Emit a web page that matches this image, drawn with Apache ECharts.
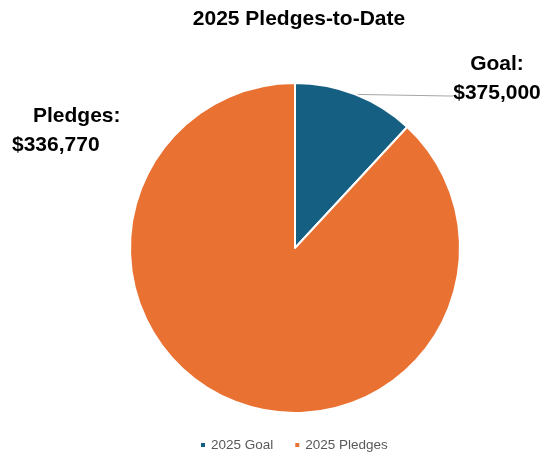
<!DOCTYPE html>
<html>
<head>
<meta charset="utf-8">
<script src="https://cdn.jsdelivr.net/npm/echarts@6/dist/echarts.min.js"></script>
<style>
html,body{margin:0;padding:0;background:#fff;}
#chart{width:545px;height:453px;}
</style>
</head>
<body>
<div id="chart"></div>
<script>
const titleText = '2025 Pledges-to-Date';
const categories = ['2025 Goal', '2025 Pledges'];
const values = [45500, 336770];
const labelTitles = ['Goal:', 'Pledges:'];
const labelAmounts = ['$375,000', '$336,770'];
const colors = ['#156082', '#E97132'];

const chart = echarts.init(document.getElementById('chart'));
const FONT = '"Liberation Sans", Arial, sans-serif';

const data = categories.map((c, i) => ({
  name: c,
  value: values[i],
  itemStyle: { color: colors[i] },
  labelLine: { show: i === 0 },
  label: i === 0 ? {} : { rich: { a: { padding: [0, 0, 0, 21] } } }
}));

chart.setOption({
  animation: false,
  title: {
    text: titleText,
    left: 294,
    textAlign: 'center',
    top: 4,
    textStyle: { fontFamily: FONT, fontSize: 21, fontWeight: 'bold', color: '#000' }
  },
  legend: {
    data: categories,
    left: 194,
    top: 433,
    icon: 'rect',
    itemWidth: 6,
    itemHeight: 6,
    itemGap: 20,
    textStyle: { fontFamily: FONT, fontSize: 13.5, color: '#595959' }
  },
  series: [{
    type: 'pie',
    center: [295, 248],
    radius: 165,
    startAngle: 90,
    clockwise: true,
    data: data,
    itemStyle: { borderColor: '#fff', borderWidth: 2 },
    label: {
      show: true,
      position: 'outside',
      formatter: function (p) {
        let s = '{a|' + labelTitles[p.dataIndex] + '}\n{b|' + labelAmounts[p.dataIndex] + '}';
        if (p.dataIndex === 0) s += '\n{c| }';
        return s;
      },
      rich: {
        a: { fontFamily: FONT, fontSize: 21, fontWeight: 'bold', color: '#000', lineHeight: 29 },
        b: { fontFamily: FONT, fontSize: 21, fontWeight: 'bold', color: '#000', lineHeight: 29 },
        c: { fontSize: 10, lineHeight: 50 }
      }
    },
    labelLine: {
      show: true,
      length: 10,
      length2: 4,
      lineStyle: { color: '#a6a6a6', width: 1 }
    },
    labelLayout: function (params) {
      if (params.dataIndex === 0) {
        return { x: 497, y: 50, align: 'center', verticalAlign: 'top' };
      }
      return { x: 12, y: 131, align: 'left', verticalAlign: 'middle' };
    }
  }]
});
</script>
</body>
</html>
